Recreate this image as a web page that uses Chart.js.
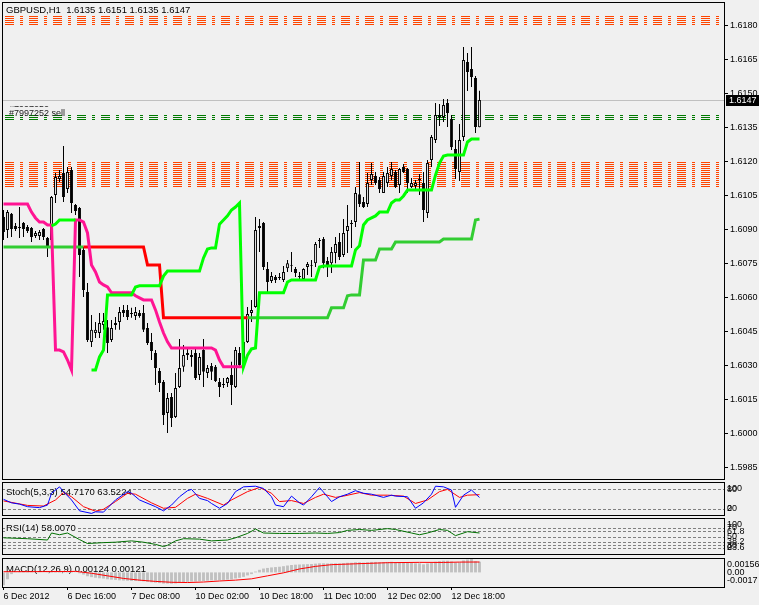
<!DOCTYPE html>
<html>
<head>
<meta charset="utf-8">
<title>GBPUSD,H1</title>
<script src="https://cdn.jsdelivr.net/npm/chart.js@4.4.1/dist/chart.umd.min.js"></script>
<style>
html,body{margin:0;padding:0;background:#F0F0F0;overflow:hidden;}
#wrap{position:relative;width:759px;height:605px;}
#wrap canvas{position:absolute;left:0;top:0;}
</style>
</head>
<body>
<div id="wrap">
<canvas id="cMain" width="759" height="605"></canvas>
<canvas id="cStoch" width="759" height="605"></canvas>
<canvas id="cRsi" width="759" height="605"></canvas>
<canvas id="cMacd" width="759" height="605"></canvas>
</div>
<script>
// ---------------- DATA ----------------
const symbolName = 'GBPUSD';
const timeframe = 'H1';
const orderLabel = '#7997252 sell';
const orderId = '#7997252';

const timeTickBars = [0, 16, 32, 48, 64, 80, 96, 112];
const timeTickLabels = ['6 Dec 2012', '6 Dec 16:00', '7 Dec 08:00', '10 Dec 02:00', '10 Dec 18:00', '11 Dec 10:00', '12 Dec 02:00', '12 Dec 18:00'];

const priceTicks = [1.5985, 1.6000, 1.6015, 1.6030, 1.6045, 1.6060, 1.6075, 1.6090, 1.6105, 1.6120, 1.6135, 1.6150, 1.6165, 1.6180];
const priceMin = 1.59800;
const priceMax = 1.61897;

const barOpen = [
1.60954,1.60897,1.60968,1.60915,1.60910,1.60928,1.60910,1.60906,1.60871,1.60871,
1.60901,1.60862,1.60853,1.61051,1.61122,1.61148,1.61078,1.61161,1.61007,1.60994,
1.60809,1.60624,1.60404,1.60443,1.60443,1.60478,1.60469,1.60412,1.60478,1.60492,
1.60545,1.60545,1.60531,1.60518,1.60531,1.60531,1.60465,1.60404,1.60355,1.60276,
1.60227,1.60091,1.60161,1.60073,1.60205,1.60294,1.60346,1.60338,1.60355,1.60258,
1.60368,1.60267,1.60298,1.60294,1.60227,1.60218,1.60223,1.60258,1.60205,1.60355,
1.60302,1.60404,1.60531,1.60558,1.60906,1.60928,1.60725,1.60672,1.60690,1.60690,
1.60677,1.60729,1.60738,1.60725,1.60694,1.60681,1.60734,1.60738,1.60751,1.60853,
1.60857,1.60760,1.60751,1.60796,1.60844,1.60787,1.60893,1.60928,1.60932,1.61055,
1.61020,1.61011,1.61117,1.61135,1.61117,1.61060,1.61104,1.61135,1.61152,1.61095,
1.61174,1.61166,1.61086,1.61091,1.61122,1.61104,1.60972,1.61205,1.61293,1.61395,
1.61395,1.61457,1.61386,1.61254,1.61152,1.61307,1.61637,1.61606,1.61567,1.6135
];
const barHigh = [
1.60985,1.60985,1.60972,1.60928,1.60998,1.60932,1.60919,1.60910,1.60893,1.60897,
1.60906,1.60866,1.61047,1.61148,1.61161,1.61267,1.61174,1.61174,1.61011,1.60998,
1.60822,1.60663,1.60522,1.60492,1.60531,1.60531,1.60501,1.60501,1.60514,1.60558,
1.60567,1.60567,1.60554,1.60558,1.60545,1.60567,1.60487,1.60443,1.60368,1.60289,
1.60236,1.60179,1.60179,1.60267,1.60417,1.60390,1.60377,1.60368,1.60377,1.60355,
1.60417,1.60302,1.60311,1.60302,1.60245,1.60245,1.60249,1.60316,1.60382,1.60382,
1.60421,1.60558,1.60589,1.60954,1.60945,1.60932,1.60756,1.60712,1.60699,1.60707,
1.60738,1.60765,1.60800,1.60734,1.60712,1.60729,1.60756,1.60765,1.60844,1.60862,
1.60866,1.60778,1.60822,1.60866,1.60884,1.60945,1.61007,1.60941,1.61086,1.61197,
1.61042,1.61148,1.61192,1.61152,1.61130,1.61152,1.61174,1.61197,1.61161,1.61170,
1.61188,1.61170,1.61126,1.61117,1.61144,1.61152,1.61205,1.61315,1.61457,1.61452,
1.61474,1.61474,1.61404,1.61293,1.61364,1.61703,1.61677,1.61703,1.61575,1.6151
];
const barLow = [
1.60853,1.60862,1.60866,1.60893,1.60862,1.60866,1.60884,1.60844,1.60862,1.60853,
1.60853,1.60778,1.60840,1.61016,1.61108,1.61020,1.61060,1.60972,1.60963,1.60690,
1.60602,1.60404,1.60382,1.60421,1.60421,1.60457,1.60355,1.60404,1.60457,1.60457,
1.60514,1.60501,1.60510,1.60501,1.60510,1.60448,1.60390,1.60324,1.60214,1.60183,
1.60038,1.60003,1.60029,1.60069,1.60201,1.60272,1.60324,1.60294,1.60236,1.60236,
1.60205,1.60245,1.60236,1.60227,1.60161,1.60201,1.60205,1.60126,1.60201,1.60294,
1.60298,1.60399,1.60492,1.60554,1.60800,1.60721,1.60624,1.60663,1.60663,1.60677,
1.60668,1.60712,1.60712,1.60690,1.60681,1.60677,1.60699,1.60690,1.60734,1.60818,
1.60729,1.60690,1.60707,1.60751,1.60765,1.60778,1.60796,1.60818,1.60910,1.60998,
1.60994,1.60998,1.61095,1.61095,1.61060,1.61060,1.61086,1.61117,1.61082,1.61060,
1.61148,1.61060,1.61082,1.61073,1.61051,1.60932,1.60950,1.61174,1.61280,1.61355,
1.61373,1.61351,1.61249,1.61122,1.61113,1.61289,1.61509,1.61527,1.61324,1.6135
];
const barClose = [
1.60888,1.60976,1.60901,1.60901,1.60906,1.60901,1.60893,1.60866,1.60884,1.60888,
1.60866,1.60827,1.61042,1.61130,1.61135,1.61042,1.61152,1.61016,1.60981,1.60787,
1.60633,1.60412,1.60457,1.60457,1.60487,1.60496,1.60399,1.60465,1.60487,1.60536,
1.60531,1.60514,1.60527,1.60536,1.60518,1.60457,1.60399,1.60364,1.60289,1.60223,
1.60082,1.60157,1.60069,1.60201,1.60289,1.60346,1.60355,1.60346,1.60245,1.60338,
1.60272,1.60289,1.60272,1.60232,1.60205,1.60214,1.60245,1.60214,1.60368,1.60302,
1.60404,1.60527,1.60545,1.60897,1.60915,1.60734,1.60668,1.60694,1.60677,1.60686,
1.60712,1.60751,1.60742,1.60707,1.60690,1.60725,1.60747,1.60742,1.60835,1.60849,
1.60751,1.60743,1.60800,1.60835,1.60778,1.60884,1.60915,1.60923,1.61060,1.61011,
1.60998,1.61104,1.61144,1.61104,1.61078,1.61135,1.61148,1.61166,1.61086,1.61166,
1.61152,1.61104,1.61104,1.61104,1.61117,1.60985,1.61192,1.61307,1.61404,1.61404,
1.61448,1.61412,1.61262,1.61166,1.61293,1.61646,1.61593,1.61571,1.61351,1.6147
];

// trailing-stop style indicator lines on the price chart (segments start at a bar index)
const pinkStart = 0;
const pinkLine = [
1.61011,1.61011,1.61011,1.61011,1.61011,1.61011,1.61011,
1.60976,1.60950,1.60932,1.60932,1.60919,1.60919,
1.60368,1.60368,1.60360,1.60324,1.60280,
1.60941,1.60941,1.60932,1.60884,1.60743,1.60712,1.60668,1.60655,1.60646,
1.60620,1.60620,1.60620,1.60620,1.60620,1.60620,
1.60607,1.60598,1.60589,1.60589,1.60589,
1.60545,1.60492,1.60443,1.60404,
1.60377,1.60377,1.60377,1.60377,1.60377,1.60377,1.60377,1.60377,1.60377,1.60377,1.60377,
1.60368,1.60324,
1.60294,1.60294,1.60294,1.60294,1.60294,1.60294
];
const redStart = 20;
const redLine = [
1.60822,1.60822,1.60822,1.60822,1.60822,1.60822,1.60822,1.60822,1.60822,1.60822,1.60822,1.60822,1.60822,1.60822,1.60822,1.60822,
1.60743,1.60743,1.60743,1.60743,
1.60510,1.60510,1.60510,1.60510,1.60510,1.60510,1.60510,1.60510,1.60510,1.60510,1.60510,
1.60510,1.60510,1.60510,1.60510,1.60510,1.60510,1.60510,1.60510,1.60510,1.60510,1.60510
];
const limeStartA = 0;
const limeLineA = [
1.60822,1.60822,1.60822,1.60822,1.60822,1.60822,1.60822,1.60822,1.60822,1.60822,1.60822,
1.60822,1.60822,1.60822,1.60822,1.60822,1.60822,1.60822,1.60822,1.60822,1.60822
];
const limeStartB = 61;
const limeLineB = [
1.60510,1.60510,1.60510,1.60510,1.60510,1.60510,1.60510,1.60510,1.60510,1.60510,1.60510,
1.60510,1.60510,1.60510,1.60510,1.60510,1.60510,1.60510,1.60510,1.60510,1.60510,
1.60554,1.60554,1.60554,1.60554,
1.60607,
1.60611,1.60611,1.60611,
1.60765,1.60765,1.60765,1.60765,
1.60813,1.60813,1.60813,1.60813,
1.60844,1.60844,1.60844,1.60844,1.60844,1.60844,1.60844,1.60844,1.60844,1.60844,1.60844,1.60844,
1.60857,1.60857,1.60857,1.60857,1.60857,1.60857,1.60857,
1.60857,1.60941,1.60945
];
const greenStartA = 12;
const greenLineA = [1.60915,1.60923,1.60941,1.60941,1.60941,1.60941,1.60941];
const greenStartB = 22;
const greenLineB = [
1.60280,1.60280,1.60338,1.60368,
1.60611,1.60611,1.60611,1.60611,1.60611,1.60611,1.60611,
1.60646,
1.60651,1.60651,1.60651,1.60651,1.60651,1.60651,
1.60694,
1.60716,1.60716,1.60716,1.60716,1.60716,1.60716,1.60716,1.60716,1.60716,
1.60774,1.60813,1.60818,1.60818,
1.60923,1.60941,1.60959,1.60985,1.60998,1.61016,
1.60294,1.60346,1.60373,1.60377,
1.60620,1.60620,1.60620,1.60620,1.60620,1.60620,1.60620,
1.60668,
1.60677,1.60677,1.60677,1.60677,1.60677,1.60677,1.60677,
1.60734,
1.60738,1.60738,1.60738,1.60738,1.60738,1.60738,1.60738,1.60738,
1.60809,1.60827,1.60919,1.60941,1.60950,1.60959,
1.60976,1.60976,1.60976,
1.61016,1.61029,1.61029,1.61047,
1.61073,1.61073,1.61073,1.61073,1.61073,1.61073,1.61073,
1.61139,1.61192,1.61223,
1.61227,1.61227,1.61227,1.61227,1.61227,
1.61285,1.61298,1.61298,1.61298
];

// horizontal price levels (orders / zones)
const upperZoneLevels = [1.61840, 1.61831, 1.61822, 1.61813, 1.61805];
const orderLevels = [1.61404, 1.61395, 1.61386];
const lowerZoneLevels = [1.61197, 1.61188, 1.61179, 1.61170, 1.61161, 1.61152, 1.61144, 1.61135, 1.61126, 1.61117, 1.61108, 1.61100, 1.61091];
const bidLevel = 1.6147;

// Stochastic (5,3,3)
const stochKBars = [0,2,4,6,9,11,12,14,15,17,19,22,23,25,28,31,32,34,38,40,42,44,46,47,49,51,52,54,56,58,60,63,65,67,68,70,72,74,75,77,79,81,82,84,86,88,90,92,95,97,98,101,103,105,107,108,110,112,113,115,117,119];
const stochKValues = [49,38,34,26,23,31,68,88,73,47,13,5,10,9,47,73,68,47,26,13,31,57,76,80,52,45,36,21,36,73,88,90,83,57,31,26,59,38,31,57,86,57,42,57,65,76,68,65,55,62,59,57,21,38,65,90,88,78,24,62,78,54.7170];
const stochDBars = [0,6,10,13,15,17,20,23,25,28,31,33,37,40,43,46,48,51,55,57,61,64,67,69,72,75,78,80,83,85,89,92,96,100,103,106,109,111,114,116,119];
const stochDValues = [44,30,28,47,70,57,26,12,18,42,68,65,38,21,24,52,65,52,31,47,73,86,68,42,45,36,55,65,55,59,70,62,62,59,36,47,73,80,55,62,63.5224];
const stochLevels = [80, 20];
const stochAxisLabels = ['100', '80', '20', '0'];
const stochAxisValues = [100, 80, 20, 0];

// RSI(14)
const rsiBars = [0,6,11,12,14,16,19,21,25,28,32,35,38,40,41,43,45,49,52,56,58,61,63,65,69,74,78,81,84,86,89,92,96,98,102,104,106,109,111,113,116,119];
const rsiValues = [47,45,42,58,54,58,43,34,36,37,40,37,32,27,30,40,45,44,40,42,47,57,67,58,57,57,58,57,59,64,66,64,68,66,58,54,58,66,64,52,61,58.0070];
const rsiLevels = [70, 61.8, 50, 38.2, 30, 23.6];
const rsiAxisLabels = ['100', '70', '61.8', '50', '38.2', '30', '23.6', '0'];
const rsiAxisValues = [100, 70, 61.8, 50, 38.2, 30, 23.6, 0];

// MACD(12,26,9)
const macdMain = [
-0.00150,-0.00080,-0.00020,0.00002,0.00003,0.00004,0.00004,0.00003,0.00002,0.00001,
0.00000,-0.00002,0.00008,0.00014,0.00018,0.00016,0.00015,0.00008,0.00002,-0.00010,
-0.00025,-0.00045,-0.00055,-0.00062,-0.00068,-0.00072,-0.00080,-0.00085,-0.00088,-0.00092,
-0.00095,-0.00097,-0.00100,-0.00100,-0.00101,-0.00104,-0.00110,-0.00115,-0.00120,-0.00124,
-0.00130,-0.00130,-0.00132,-0.00128,-0.00120,-0.00114,-0.00110,-0.00106,-0.00106,-0.00102,
-0.00100,-0.00096,-0.00093,-0.00092,-0.00090,-0.00088,-0.00085,-0.00082,-0.00070,-0.00063,
-0.00052,-0.00035,-0.00020,0.00010,0.00030,0.00045,0.00052,0.00058,0.00062,0.00066,
0.00072,0.00080,0.00086,0.00090,0.00092,0.00094,0.00096,0.00098,0.00102,0.00106,
0.00106,0.00104,0.00104,0.00106,0.00104,0.00108,0.00112,0.00112,0.00118,0.00118,
0.00114,0.00118,0.00122,0.00122,0.00118,0.00120,0.00122,0.00124,0.00118,0.00120,
0.00120,0.00114,0.00110,0.00106,0.00106,0.00094,0.00104,0.00112,0.00124,0.00130,
0.00136,0.00136,0.00128,0.00116,0.00118,0.00140,0.00150,0.00156,0.00130,0.00124
];
const macdSignalBars = [0,16,18,22,26,30,34,38,42,46,50,54,58,62,66,70,74,78,82,88,96,104,110,114,119];
const macdSignalValues = [0.00008,0.00010,0.00012,-0.00010,-0.00040,-0.00070,-0.00090,-0.00105,-0.00115,-0.00118,-0.00112,-0.00100,-0.00090,-0.00075,-0.00040,-0.00005,0.00040,0.00070,0.00090,0.00100,0.00113,0.00117,0.00116,0.00120,0.00121];
const macdAxisLabels = ['0.00156', '0.00', '-0.0017'];
const macdAxisValues = [0.00156, 0, -0.0017];

// ---------------- CHARTS ----------------
const FONT_FAMILY = '"Liberation Sans", Arial, sans-serif';
const FONT = '9px ' + FONT_FAMILY;
const TITLE_FONT = '9.5px ' + FONT_FAMILY;
Chart.defaults.font.family = FONT_FAMILY;
Chart.defaults.font.size = 9;
Chart.defaults.color = '#000';

const X_MIN = -0.125, X_MAX = 180.125;
const BG = '#F0F0F0';
const ZONE_COLOR = '#FF4500';
const ORDER_COLOR = '#007A00';
const BID_COLOR = '#C0C0C0';
const ZONE_DASH = [9, 6, 3, 6];

const seg = (start, arr) => arr.map((v, k) => ({x: start + k, y: v}));
const pairs = (bars, vals) => bars.map((b, k) => ({x: b, y: vals[k]}));
const last = a => a[a.length - 1];

function baseOptions(pad) {
  return {
    responsive: false, maintainAspectRatio: false, animation: false, devicePixelRatio: 1, events: [],
    layout: {padding: pad},
    plugins: {legend: {display: false}, tooltip: {enabled: false}}
  };
}
function xAxis(show) {
  return {
    type: 'linear', min: X_MIN, max: X_MAX, offset: false, display: show,
    grid: {display: true, offset: false, drawOnChartArea: false, drawTicks: true, tickLength: 3, color: '#000', lineWidth: 1},
    border: {display: false},
    afterBuildTicks: s => { s.ticks = timeTickBars.map(v => ({value: v})); },
    afterFit: s => { if (show) { s.height = 17; s.paddingLeft = 0; s.paddingRight = 0; } },
    ticks: {autoSkip: false, maxRotation: 0, minRotation: 0, align: 'start', padding: 1, color: '#000', font: {size: 9},
      callback: v => { const k = timeTickBars.indexOf(v); return k < 0 ? '' : timeTickLabels[k]; }}
  };
}
function hiddenY(min, max) {
  return {type: 'linear', min, max, display: false};
}
function lineDs(data, color, width, order) {
  return {type: 'line', data, borderColor: color, backgroundColor: color, borderWidth: width, pointRadius: 0, tension: 0, fill: false, order, spanGaps: false};
}

const framePlugin = {
  id: 'frame',
  afterDraw(chart) {
    const {ctx, chartArea: a} = chart;
    ctx.save();
    ctx.fillStyle = '#000';
    ctx.fillRect(a.left - 1, a.top - 1, a.right - a.left + 2, 1);
    ctx.fillRect(a.left - 1, a.bottom, a.right - a.left + 2, 1);
    ctx.fillRect(a.left - 1, a.top - 1, 1, a.bottom - a.top + 2);
    ctx.fillRect(a.right, a.top - 1, 1, a.bottom - a.top + 2);
    ctx.restore();
  }
};

// one pixel-row horizontal level through the y scale, solid or dashed
function drawLevel(ctx, a, row, color, dash, start) {
  ctx.fillStyle = color;
  if (!dash) { ctx.fillRect(a.left, row, a.right - a.left, 1); return; }
  const period = dash.reduce((s, d) => s + d, 0);
  for (let x = a.left + (start || 0) - period; x < a.right; x += period) {
    let p = x;
    for (let k = 0; k < dash.length; k++) {
      if (k % 2 === 0) {
        const x0 = Math.max(p, a.left), x1 = Math.min(p + dash[k], a.right);
        if (x1 > x0) ctx.fillRect(x0, row, x1 - x0, 1);
      }
      p += dash[k];
    }
  }
}

// horizontal levels + panel title, drawn behind the datasets
function levelsPlugin(groups, title, titleDy) {
  return {
    id: 'levels',
    beforeDatasetsDraw(chart) {
      const {ctx, chartArea: a} = chart;
      const y = chart.scales.y;
      ctx.save();
      groups.forEach(g => {
        g.values.forEach(v => {
          const row = Math.round(y.getPixelForValue(v));
          drawLevel(ctx, a, row, g.color, g.dash, g.start);
        });
      });
      if (title) {
        ctx.font = TITLE_FONT; ctx.textBaseline = 'middle'; ctx.textAlign = 'left';
        const tx = a.left + 3, ty = a.top + titleDy;
        const w = ctx.measureText(title).width;
        ctx.fillStyle = BG; ctx.fillRect(tx - 1, ty - 5, w + 2, 10);
        ctx.fillStyle = '#000'; ctx.fillText(title, tx, ty);
      }
      ctx.restore();
    }
  };
}

function sideLabelsPlugin(labels, values) {
  return {
    id: 'sideLabels',
    afterDraw(chart) {
      const {ctx, chartArea: a} = chart;
      const y = chart.scales.y;
      ctx.save();
      ctx.font = FONT; ctx.fillStyle = '#000'; ctx.textBaseline = 'middle'; ctx.textAlign = 'left';
      labels.forEach((t, k) => {
        let py = y.getPixelForValue(values[k]);
        py = Math.min(Math.max(py, a.top + 6), a.bottom - 6);
        ctx.fillText(t, a.right + 3, py);
      });
      ctx.restore();
    }
  };
}

const mainTextPlugin = {
  id: 'mainText',
  afterDraw(chart) {
    const {ctx, chartArea: a} = chart;
    const y = chart.scales.y;
    const n = barClose.length - 1;
    const f = v => v.toFixed(4);
    ctx.save();
    ctx.font = TITLE_FONT; ctx.fillStyle = '#000'; ctx.textBaseline = 'middle'; ctx.textAlign = 'left';
    ctx.fillText(`${symbolName},${timeframe}  ${f(barOpen[n])} ${f(barHigh[n])} ${f(barLow[n])} ${f(barClose[n])}`, 6, 10);
    // order labels
    ctx.font = FONT;
    ctx.fillStyle = '#202020';
    ctx.fillText(orderLabel, 9, 113.5);
    ctx.save();
    ctx.beginPath(); ctx.rect(0, 100, 120, 7); ctx.clip();
    ctx.fillText(orderId, 9, 110);
    ctx.restore();
    // current price box
    const py = Math.round(y.getPixelForValue(bidLevel));
    ctx.fillStyle = '#000';
    ctx.fillRect(a.right + 2, py - 5, 759 - a.right - 2, 11);
    ctx.fillStyle = '#FFF';
    ctx.fillText(bidLevel.toFixed(4), a.right + 5, py + 0.5);
    ctx.restore();
  }
};

// ----- main price chart -----
const wickData = barOpen.map((o, i) => ({x: i, y: [barLow[i], barHigh[i]]}));
const bodyData = barOpen.map((o, i) => ({x: i, y: [Math.min(o, barClose[i]), Math.max(o, barClose[i])]}));
const bodyColors = barOpen.map((o, i) => barClose[i] >= o ? '#FFFFFF' : '#000000');

const mainLevels = [
  {values: [bidLevel], color: BID_COLOR},
  {values: upperZoneLevels, color: ZONE_COLOR, dash: ZONE_DASH, start: 2},
  {values: lowerZoneLevels, color: ZONE_COLOR, dash: ZONE_DASH, start: 2},
  {values: orderLevels, color: ORDER_COLOR, dash: ZONE_DASH, start: 2}
];

new Chart(document.getElementById('cMain'), {
  type: 'bar',
  data: {datasets: [
    {type: 'bar', data: wickData, backgroundColor: '#000', borderWidth: 0, grouped: false, maxBarThickness: 1, inflateAmount: 0, order: 50},
    {type: 'bar', data: bodyData, backgroundColor: bodyColors, borderColor: '#000', borderWidth: 1, borderSkipped: false, grouped: false, maxBarThickness: 3, inflateAmount: 0, order: 49},
    lineDs(seg(limeStartA, limeLineA), '#32CD32', 3, 9),
    lineDs(seg(limeStartB, limeLineB), '#32CD32', 3, 9),
    lineDs(seg(redStart, redLine), '#FF0000', 3, 8),
    lineDs(seg(pinkStart, pinkLine), '#FF1493', 3, 7),
    lineDs(seg(greenStartA, greenLineA), '#00FF00', 3, 6),
    lineDs(seg(greenStartB, greenLineB), '#00FF00', 3, 6)
  ]},
  options: Object.assign(baseOptions({left: 3, right: 0, top: 3, bottom: 126}), {
    scales: {
      x: xAxis(false),
      y: {
        type: 'linear', position: 'right', min: priceMin, max: priceMax,
        afterBuildTicks: s => { s.ticks = priceTicks.map(v => ({value: v})); },
        afterFit: s => { s.width = 35; s.paddingTop = 0; s.paddingBottom = 0; },
        grid: {drawOnChartArea: false, drawTicks: true, tickLength: 4, color: '#000'},
        border: {display: false},
        ticks: {padding: 2, color: '#000', font: {size: 9}, callback: v => v.toFixed(4)}
      }
    }
  }),
  plugins: [levelsPlugin(mainLevels, null, 0), mainTextPlugin, framePlugin]
});

// ----- Stochastic -----
new Chart(document.getElementById('cStoch'), {
  type: 'line',
  data: {datasets: [
    lineDs(pairs(stochDBars, stochDValues), '#FF0000', 1, 2),
    lineDs(pairs(stochKBars, stochKValues), '#0000FF', 1, 1)
  ]},
  options: Object.assign(baseOptions({left: 3, right: 35, top: 483, bottom: 90}), {
    scales: {x: xAxis(false), y: hiddenY(0, 100)}
  }),
  plugins: [
    levelsPlugin([{values: stochLevels, color: '#808080', dash: [3, 2]}],
      `Stoch(5,3,3) ${last(stochKValues).toFixed(4)} ${last(stochDValues).toFixed(4)}`, 9.5),
    sideLabelsPlugin(stochAxisLabels, stochAxisValues), framePlugin]
});

// ----- RSI -----
new Chart(document.getElementById('cRsi'), {
  type: 'line',
  data: {datasets: [lineDs(pairs(rsiBars, rsiValues), '#007000', 1, 1)]},
  options: Object.assign(baseOptions({left: 3, right: 35, top: 519, bottom: 51}), {
    scales: {x: xAxis(false), y: hiddenY(10, 90)}
  }),
  plugins: [
    levelsPlugin([{values: rsiLevels, color: '#808080', dash: [3, 2]}], `RSI(14) ${last(rsiValues).toFixed(4)}`, 9),
    sideLabelsPlugin(rsiAxisLabels, rsiAxisValues), framePlugin]
});

// ----- MACD -----
new Chart(document.getElementById('cMacd'), {
  type: 'bar',
  data: {datasets: [
    {type: 'bar', data: macdMain.map((v, i) => ({x: i, y: v})), backgroundColor: '#C0C0C0', borderWidth: 0, grouped: false, maxBarThickness: 3, inflateAmount: 0, order: 5},
    lineDs(pairs(macdSignalBars, macdSignalValues), '#FF0000', 1, 1)
  ]},
  options: Object.assign(baseOptions({left: 3, right: 35, top: 559, bottom: 1}), {
    scales: {x: xAxis(true), y: hiddenY(-0.0017, 0.00156)}
  }),
  plugins: [
    levelsPlugin([], `MACD(12,26,9) ${last(macdMain).toFixed(5)} ${last(macdSignalValues).toFixed(5)}`, 10),
    sideLabelsPlugin(macdAxisLabels, macdAxisValues), framePlugin]
});
</script>
</body>
</html>
